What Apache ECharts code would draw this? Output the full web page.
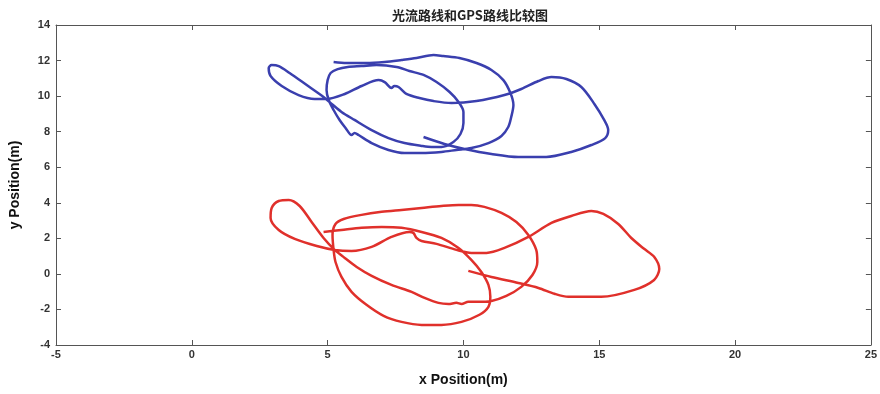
<!DOCTYPE html>
<html>
<head>
<meta charset="utf-8">
<script src="https://cdn.jsdelivr.net/npm/echarts@6/dist/echarts.min.js"></script>
<style>
html,body{margin:0;padding:0;background:#fff;}
#chart{width:880px;height:394px;}
</style>
</head>
<body>
<div id="chart"></div>
<script>
const titleText = '光流路线和GPS路线比较图';
const xName = 'x Position(m)';
const yName = 'y Position(m)';

const blueX = [5.22,5.70,6.43,7.10,7.72,8.27,8.90,9.26,9.85,10.48,11.03,11.47,11.73,11.84,11.76,11.65,11.40,10.92,10.29,9.74,9.19,8.46,7.83,7.24,6.62,6.14,5.99,5.88,5.66,5.44,5.22,5.04,4.96,5.00,5.11,5.37,5.74,6.25,6.80,7.54,8.01,8.53,9.01,9.49,9.82,10.00,10.00,9.89,9.63,9.19,8.82,8.46,7.83,7.24,6.62,5.99,5.51,5.15,4.85,4.23,3.60,3.20,2.94,2.83,2.90,3.31,3.93,4.52,4.96,5.63,6.25,6.88,7.10,7.35,7.46,7.61,7.90,8.38,8.90,9.56,10.48,11.51,12.13,12.76,13.24,13.79,14.34,14.82,15.18,15.33,15.22,14.71,13.97,13.05,12.02,11.03,10.04,9.30,8.53];
const blueY = [11.92,11.86,11.86,11.92,12.03,12.14,12.31,12.25,12.14,11.86,11.47,10.90,10.17,9.50,8.83,8.26,7.76,7.36,7.08,6.97,6.86,6.80,6.80,6.97,7.36,7.81,7.93,7.81,8.21,8.66,9.22,9.78,10.34,10.90,11.30,11.52,11.64,11.69,11.75,11.64,11.41,11.19,10.79,10.23,9.67,9.11,8.49,7.87,7.42,7.14,7.14,7.20,7.36,7.64,8.09,8.66,9.11,9.56,9.95,10.62,11.30,11.69,11.75,11.58,11.13,10.57,10.06,9.84,9.84,10.12,10.57,10.90,10.79,10.46,10.57,10.51,10.12,9.89,9.72,9.61,9.72,10.06,10.40,10.85,11.07,10.96,10.51,9.56,8.66,8.09,7.64,7.25,6.86,6.58,6.58,6.75,7.03,7.31,7.70];

const redX = [4.85,5.51,6.25,6.99,7.72,8.46,9.19,9.82,10.29,10.66,10.92,10.99,10.92,10.59,9.93,9.19,8.46,7.72,7.06,6.43,5.88,5.51,5.29,5.22,5.18,5.29,5.59,6.25,6.99,7.72,8.46,9.19,9.82,10.29,10.77,11.40,11.95,12.39,12.68,12.72,12.54,12.13,11.58,11.03,10.48,10.18,9.93,9.74,9.45,9.08,8.57,8.09,7.35,6.62,6.07,5.63,5.26,4.85,4.41,3.97,3.57,3.20,2.94,2.90,3.20,3.79,4.60,5.26,5.88,6.62,7.35,8.01,8.16,8.27,8.46,9.01,9.74,10.29,10.85,11.51,12.39,13.24,13.97,14.71,15.15,15.70,16.18,16.65,17.02,17.21,17.02,16.29,15.07,13.86,13.35,12.76,12.02,11.03,10.18];
const redY = [2.36,2.47,2.59,2.64,2.59,2.36,2.02,1.46,0.79,0.11,-0.62,-1.29,-1.85,-2.30,-2.70,-2.87,-2.87,-2.70,-2.36,-1.74,-1.01,-0.17,0.67,1.35,2.19,2.81,3.09,3.32,3.49,3.60,3.71,3.82,3.88,3.88,3.77,3.43,2.92,2.19,1.35,0.67,-0.06,-0.73,-1.24,-1.52,-1.57,-1.57,-1.69,-1.63,-1.69,-1.63,-1.35,-1.01,-0.62,-0.11,0.39,0.90,1.35,2.02,2.92,3.82,4.16,4.10,3.71,3.15,2.47,1.97,1.57,1.35,1.29,1.52,2.08,2.36,2.30,2.02,1.85,1.69,1.35,1.18,1.18,1.46,2.08,2.87,3.26,3.54,3.37,2.81,2.02,1.41,0.96,0.28,-0.34,-0.90,-1.29,-1.29,-1.12,-0.79,-0.51,-0.17,0.17];

const pairs = (xs, ys) => xs.map((x, i) => [x, ys[i]]);

const FONT = "'Liberation Sans', Arial, sans-serif";
const axisLine = {show: true, onZero: false, lineStyle: {color: '#555', width: 1}};
const tick = {show: true, inside: true, length: 5, lineStyle: {color: '#555'}};
const lbl = {fontFamily: FONT, fontSize: 11, fontWeight: 'bold', color: '#333'};

const chart = echarts.init(document.getElementById('chart'), null, {renderer: 'canvas'});
chart.setOption({
  animation: false,
  backgroundColor: '#fff',
  title: {
    text: titleText, left: 465, top: 4, textAlign: 'center',
    textStyle: {fontFamily: "'Noto Sans CJK SC', sans-serif", fontSize: 13, fontWeight: 'bold', color: '#222'}
  },
  grid: {left: 54, right: 9, top: 25, bottom: 49, containLabel: false},
  xAxis: [
    {type: 'value', min: -5, max: 25, interval: 5, position: 'bottom',
     name: xName, nameLocation: 'middle', nameGap: 28,
     nameTextStyle: {fontFamily: FONT, fontSize: 14, fontWeight: 'bold', color: '#111'},
     axisLine: axisLine, axisTick: tick, splitLine: {show: false},
     axisLabel: Object.assign({margin: 4}, lbl)},
    {type: 'value', min: -5, max: 25, interval: 5, position: 'top',
     axisLine: axisLine, axisTick: tick, splitLine: {show: false}, axisLabel: {show: false}}
  ],
  yAxis: [
    {type: 'value', min: -4, max: 14, interval: 2, position: 'left',
     name: yName, nameLocation: 'middle', nameGap: 34, nameRotate: 90,
     nameTextStyle: {fontFamily: FONT, fontSize: 14, fontWeight: 'bold', color: '#111'},
     axisLine: axisLine, axisTick: tick, splitLine: {show: false},
     axisLabel: Object.assign({margin: 6}, lbl)},
    {type: 'value', min: -4, max: 14, interval: 2, position: 'right',
     axisLine: axisLine, axisTick: tick, splitLine: {show: false}, axisLabel: {show: false}}
  ],
  series: [
    {type: 'line', name: 'blue', data: pairs(blueX, blueY), showSymbol: false, smooth: 0.3,
     lineStyle: {color: '#3a3fae', width: 2.5}},
    {type: 'line', name: 'red', data: pairs(redX, redY), showSymbol: false, smooth: 0.3,
     lineStyle: {color: '#e0302b', width: 2.5}}
  ]
});
</script>
</body>
</html>
